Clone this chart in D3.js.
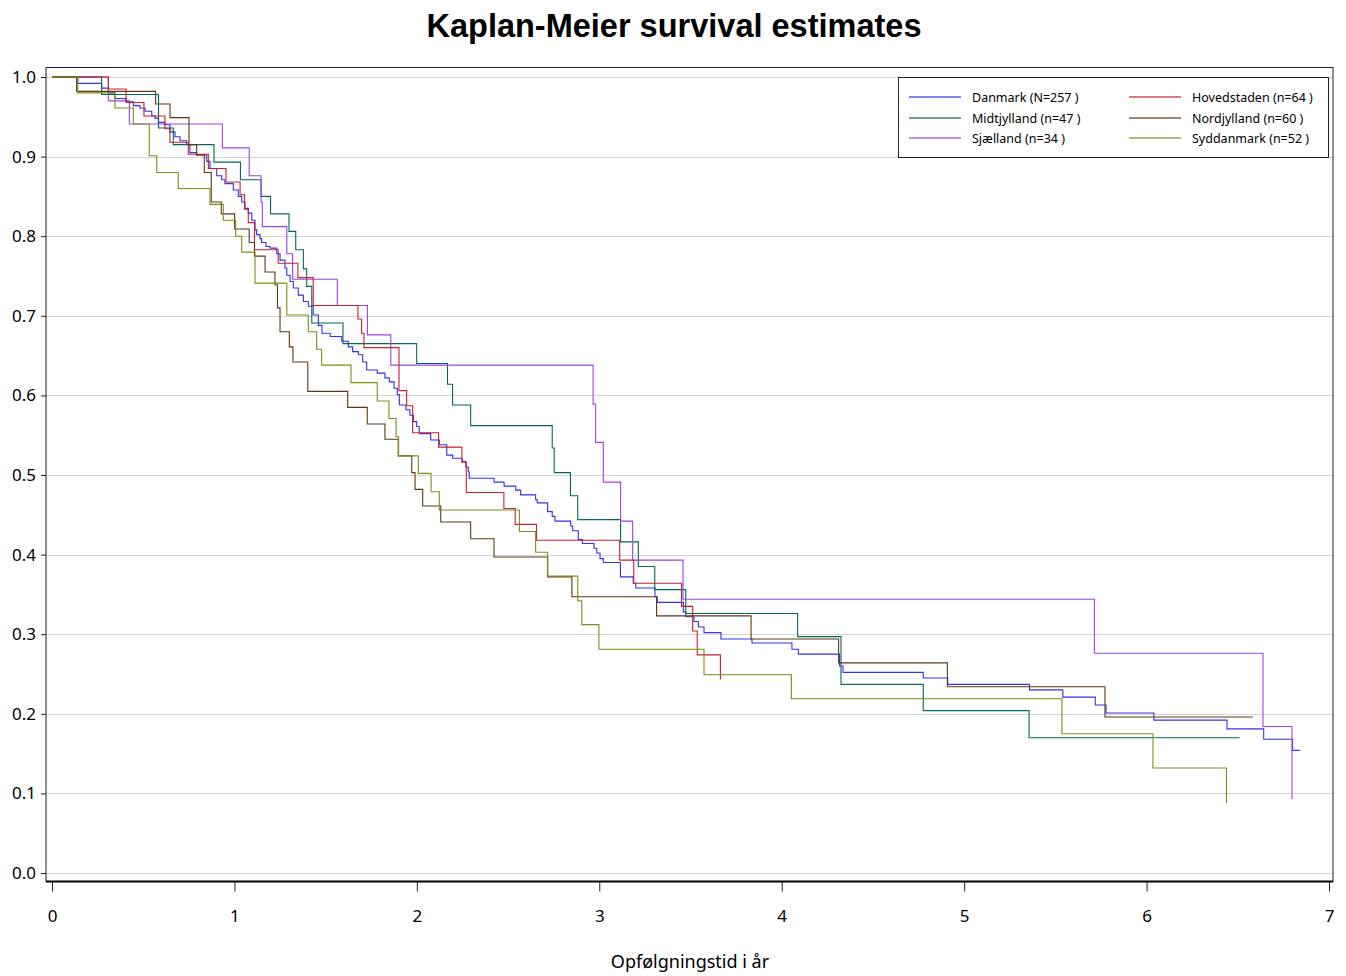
<!DOCTYPE html>
<html>
<head>
<meta charset="utf-8">
<script src="https://cdn.jsdelivr.net/npm/d3@7"></script>
<style>
  body { margin: 0; background: #fff; }
  svg { display: block; }
  .tick text { font-family: "Noto Sans", "DejaVu Sans", sans-serif; font-size: 17px; fill: #000; }
</style>
</head>
<body>
<svg id="chart" width="1346" height="976"></svg>
<script>
// ---- data (time in years, survival after each drop) ----
var years = [0, 1, 2, 3, 4, 5, 6, 7];
var survTicks = [0, 0.1, 0.2, 0.3, 0.4, 0.5, 0.6, 0.7, 0.8, 0.9, 1.0];

var seriesNames = ["Danmark", "Midtjylland", "Sjælland", "Hovedstaden", "Nordjylland", "Syddanmark"];
var seriesLabels = ["Danmark (N=257 )", "Midtjylland (n=47 )", "Sjælland (n=34 )",
                    "Hovedstaden (n=64 )", "Nordjylland (n=60 )", "Syddanmark (n=52 )"];
var seriesColors = ["#3232e6", "#006a5a", "#a142e3", "#c9202f", "#5e3812", "#7f8d16"];
var seriesEnd = [6.84, 6.51, 6.797, 3.664, 6.583, 6.438];

var danmark = [
  [0.141,0.992],[0.272,0.986],[0.309,0.980],[0.345,0.973],[0.406,0.969],[0.446,0.964],[0.482,0.961],
  [0.510,0.957],[0.547,0.951],[0.565,0.948],[0.583,0.943],[0.619,0.940],[0.647,0.931],[0.674,0.925],
  [0.702,0.920],[0.738,0.915],[0.756,0.905],[0.793,0.902],[0.848,0.894],[0.866,0.885],[0.903,0.876],
  [0.930,0.871],[0.948,0.866],[0.994,0.858],[1.021,0.850],[1.040,0.843],[1.058,0.835],[1.076,0.829],
  [1.095,0.820],[1.113,0.808],[1.122,0.802],[1.140,0.797],[1.149,0.792],[1.173,0.787],[1.195,0.785],
  [1.232,0.778],[1.250,0.770],[1.277,0.760],[1.287,0.751],[1.305,0.743],[1.323,0.735],[1.350,0.726],
  [1.378,0.718],[1.405,0.712],[1.432,0.701],[1.460,0.688],[1.480,0.678],[1.525,0.674],[1.588,0.668],
  [1.624,0.661],[1.648,0.655],[1.679,0.651],[1.703,0.642],[1.725,0.632],[1.783,0.628],[1.825,0.622],
  [1.849,0.617],[1.875,0.609],[1.893,0.601],[1.904,0.588],[1.940,0.582],[1.962,0.575],[1.981,0.567],
  [1.999,0.561],[2.013,0.552],[2.076,0.544],[2.123,0.538],[2.164,0.525],[2.196,0.521],[2.249,0.517],
  [2.269,0.510],[2.282,0.504],[2.287,0.496],[2.423,0.491],[2.478,0.486],[2.542,0.481],[2.569,0.475],
  [2.651,0.469],[2.660,0.465],[2.717,0.454],[2.742,0.448],[2.757,0.442],[2.843,0.436],[2.854,0.430],
  [2.885,0.419],[2.907,0.414],[2.971,0.408],[2.986,0.402],[3.004,0.395],[3.022,0.390],[3.116,0.372],
  [3.186,0.364],[3.200,0.358],[3.305,0.347],[3.318,0.340],[3.461,0.328],[3.474,0.322],[3.519,0.316],
  [3.543,0.309],[3.574,0.302],[3.667,0.294],[3.837,0.289],[4.056,0.281],[4.091,0.275],[4.317,0.260],
  [4.336,0.252],[4.776,0.245],[4.910,0.237],[5.358,0.230],[5.541,0.221],[5.719,0.211],[5.778,0.201],
  [6.040,0.192],[6.441,0.181],[6.642,0.168],[6.800,0.154]
];
var midtjylland = [
  [0.272,0.978],[0.584,0.936],[0.665,0.915],[0.888,0.893],[1.033,0.871],[1.146,0.850],[1.198,0.828],
  [1.299,0.806],[1.336,0.783],[1.378,0.759],[1.396,0.737],[1.424,0.691],[1.595,0.665],[1.999,0.640],
  [2.168,0.614],[2.196,0.588],[2.295,0.562],[2.742,0.534],[2.753,0.503],[2.842,0.474],[2.882,0.444],
  [3.117,0.416],[3.214,0.385],[3.304,0.356],[3.474,0.326],[4.087,0.297],[4.325,0.237],[4.776,0.204],
  [5.356,0.170]
];
var sjaelland = [
  [0.309,0.970],[0.424,0.941],[0.934,0.911],[1.081,0.876],[1.146,0.843],[1.153,0.812],[1.287,0.778],
  [1.319,0.746],[1.564,0.713],[1.729,0.676],[1.857,0.638],[2.966,0.589],[2.980,0.541],[3.022,0.491],
  [3.117,0.442],[3.183,0.393],[3.459,0.344],[5.714,0.276],[6.638,0.184],[6.797,0.093]
];
var hovedstaden = [
  [0.309,0.985],[0.406,0.968],[0.504,0.951],[0.619,0.935],[0.647,0.918],[0.747,0.903],[0.857,0.885],
  [0.954,0.868],[1.031,0.852],[1.055,0.834],[1.076,0.817],[1.110,0.783],[1.240,0.766],[1.348,0.748],
  [1.432,0.713],[1.677,0.696],[1.697,0.678],[1.710,0.660],[1.902,0.606],[1.944,0.587],[1.977,0.553],
  [2.119,0.535],[2.247,0.516],[2.271,0.478],[2.477,0.458],[2.539,0.438],[2.656,0.418],[3.112,0.393],
  [3.189,0.364],[3.451,0.335],[3.512,0.304],[3.537,0.274],[3.664,0.243]
];
var nordjylland = [
  [0.135,0.982],[0.568,0.966],[0.647,0.949],[0.751,0.915],[0.793,0.902],[0.835,0.880],[0.873,0.843],
  [0.928,0.828],[1.001,0.809],[1.081,0.792],[1.110,0.775],[1.168,0.755],[1.222,0.739],[1.236,0.710],
  [1.250,0.680],[1.301,0.661],[1.321,0.642],[1.402,0.605],[1.621,0.585],[1.728,0.564],[1.825,0.545],
  [1.898,0.524],[1.972,0.503],[1.990,0.482],[2.032,0.461],[2.131,0.441],[2.295,0.420],[2.423,0.397],
  [2.717,0.372],[2.850,0.347],[3.314,0.323],[3.832,0.294],[4.312,0.264],[4.908,0.234],[5.772,0.196]
];
var syddanmark = [
  [0.141,0.980],[0.345,0.961],[0.446,0.941],[0.533,0.901],[0.574,0.880],[0.692,0.860],[0.866,0.840],
  [0.939,0.820],[1.007,0.800],[1.040,0.780],[1.113,0.741],[1.287,0.701],[1.405,0.680],[1.451,0.658],
  [1.478,0.638],[1.639,0.616],[1.783,0.593],[1.847,0.571],[1.886,0.548],[1.900,0.524],[2.008,0.502],
  [2.078,0.479],[2.123,0.456],[2.562,0.429],[2.651,0.403],[2.717,0.373],[2.882,0.342],[2.904,0.312],
  [2.998,0.281],[3.574,0.249],[4.053,0.219],[5.536,0.175],[6.035,0.132],[6.438,0.088]
];
var seriesData = [danmark, midtjylland, sjaelland, hovedstaden, nordjylland, syddanmark];

// ---- layout ----
var svg = d3.select("#chart");
var frame = {left: 46, top: 67.5, right: 1333, bottom: 881.5};

var x = d3.scaleLinear().domain([0, 7]).range([52, 1329]);
var y = d3.scaleLinear().domain([0, 1]).range([873, 77]);

svg.append("rect").attr("width", 1346).attr("height", 976).attr("fill", "#fff");

// title
svg.append("text")
  .attr("x", 674).attr("y", 37)
  .attr("text-anchor", "middle")
  .style("font-family", "'Liberation Sans', Arial, sans-serif")
  .style("font-weight", "bold")
  .style("font-size", "32.5px")
  .text("Kaplan-Meier survival estimates");

// grid lines
svg.append("g").selectAll("line").data(survTicks).enter().append("line")
  .attr("x1", frame.left).attr("x2", frame.right)
  .attr("y1", function(d) { return Math.round(y(d)) + 0.5; })
  .attr("y2", function(d) { return Math.round(y(d)) + 0.5; })
  .attr("stroke", "#d4d4d4").attr("stroke-width", 1);

// axes
var yAxis = d3.axisLeft(y).tickValues(survTicks).tickFormat(d3.format(".1f"))
  .tickSize(5).tickPadding(5);
var gy = svg.append("g").attr("transform", "translate(" + frame.left + ",0)").call(yAxis);
gy.select(".domain").remove();

var xAxis = d3.axisBottom(x).tickValues(years).tickFormat(d3.format("d"))
  .tickSize(10).tickPadding(18);
var gx = svg.append("g").attr("transform", "translate(0," + frame.bottom + ")").call(xAxis);
gx.select(".domain").remove();
svg.selectAll(".tick line").attr("stroke", "#222");

svg.append("text")
  .attr("x", 690).attr("y", 968)
  .attr("text-anchor", "middle")
  .style("font-family", "'Noto Sans', sans-serif")
  .style("font-size", "18px")
  .text("Opfølgningstid i år");

// survival curves
var line = d3.line()
  .x(function(d) { return x(d[0]); })
  .y(function(d) { return y(d[1]); })
  .curve(d3.curveStepAfter);

seriesData.forEach(function(pts, i) {
  var path = [[0, 1]].concat(pts);
  var last = pts[pts.length - 1];
  if (seriesEnd[i] > last[0]) path.push([seriesEnd[i], last[1]]);
  svg.append("path")
    .attr("d", line(path))
    .attr("fill", "none")
    .attr("stroke", seriesColors[i])
    .attr("stroke-width", 1.1);
});

// frame
svg.append("rect")
  .attr("x", frame.left).attr("y", frame.top)
  .attr("width", frame.right - frame.left).attr("height", frame.bottom - frame.top)
  .attr("fill", "none").attr("stroke", "#222").attr("stroke-width", 1);
svg.append("line")
  .attr("x1", frame.left).attr("x2", frame.right)
  .attr("y1", frame.bottom).attr("y2", frame.bottom)
  .attr("stroke", "#000").attr("stroke-width", 2);

// legend
var lg = svg.append("g");
lg.append("rect")
  .attr("x", 898.5).attr("y", 77.5).attr("width", 430).attr("height", 80)
  .attr("fill", "#fff").attr("stroke", "#222").attr("stroke-width", 1);
var colX = [909, 1129];
var rowY = [97, 118, 138];
seriesLabels.forEach(function(label, i) {
  var cx = colX[Math.floor(i / 3)], cy = rowY[i % 3];
  lg.append("line")
    .attr("x1", cx).attr("x2", cx + 52)
    .attr("y1", cy).attr("y2", cy)
    .attr("stroke", seriesColors[i]).attr("stroke-width", 1.3)
    .attr("stroke-opacity", 0.8);
  lg.append("text")
    .attr("x", cx + 63).attr("y", cy + 4.5)
    .style("font-family", "'Noto Sans', sans-serif")
    .style("font-size", "12.5px")
    .text(label);
});
</script>
</body>
</html>
